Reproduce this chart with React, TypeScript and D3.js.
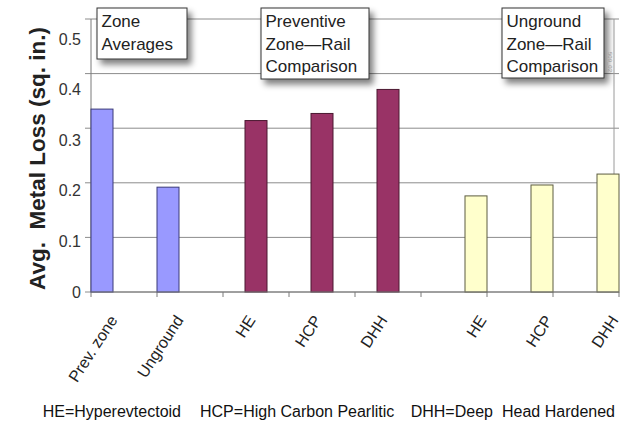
import React from "react";
import * as d3 from "d3";

// ---- data ----
const categories = ["Prev. zone", "Unground", "HE", "HCP", "DHH", "HE", "HCP", "DHH"];
const groupOf = ["zone", "zone", "prev", "prev", "prev", "ung", "ung", "ung"];
const values = [0.335, 0.192, 0.314, 0.327, 0.371, 0.176, 0.196, 0.216];
const yTicks = [0, 0.1, 0.2, 0.3, 0.4, 0.5];
const yTickLabels = ["0", "0.1", "0.2", "0.3", "0.4", "0.5"];
const yTitle = "Avg.\u00a0\u00a0Metal Loss (sq. in.)";
const boxTexts = [
  ["Zone", "Averages"],
  ["Preventive", "Zone\u2014Rail", "Comparison"],
  ["Unground", "Zone\u2014Rail", "Comparison"],
];
const footnoteParts = ["HE=Hyperevtectoid", "HCP=High Carbon Pearlitic", "DHH=Deep", "Head Hardened"];

// ---- layout / style ----
const W = 621;
const H = 421;
const plot = { left: 91, right: 619, top: 19, bottom: 292 };
const groupStyle: Record<string, { fill: string; stroke: string; align: number; labelShift: number }> = {
  zone: { fill: "#9999FF", stroke: "#3a3a78", align: 0, labelShift: 16 },
  prev: { fill: "#993366", stroke: "#4a1830", align: 0.5, labelShift: 0 },
  ung: { fill: "#FFFFCC", stroke: "#5c5c40", align: 1, labelShift: 11 },
};
const boxLayout = [
  { x: 97, y: 8, w: 90, h: 51 },
  { x: 261, y: 8, w: 108, h: 71 },
  { x: 502, y: 8, w: 102, h: 70 },
];
const footX = [42.7, 200, 410.7, 502];
const font = "'Liberation Sans', Arial, Helvetica, sans-serif";

export default function App() {
  const x = d3
    .scaleBand<number>()
    .domain(categories.map((_, i) => i))
    .range([plot.left, plot.right])
    .padding(0);
  const bw = x.bandwidth();
  const barW = bw / 3;
  const y = d3.scaleLinear().domain([0, 0.5]).range([plot.bottom, plot.top]);
  // tick text in the source sits on a slightly compressed spacing
  const yLab = d3.scaleLinear().domain([0, 0.5]).range([plot.bottom, 39]);

  const barX = (i: number) => {
    const g = groupStyle[groupOf[i]];
    return (x(i) as number) + (bw - barW) * g.align;
  };

  const xTickPos = [...categories.map((_, i) => x(i) as number), plot.right];

  return (
    <svg
      width={W}
      height={H}
      style={{ position: "absolute", left: 0, top: 0, background: "#fff" }}
      fontFamily={font}
    >
      <defs>
        <filter id="shadow" x="-20%" y="-20%" width="150%" height="170%">
          <feGaussianBlur in="SourceAlpha" stdDeviation="3" />
          <feOffset dx="4" dy="5" result="o" />
          <feComponentTransfer>
            <feFuncA type="linear" slope="0.5" />
          </feComponentTransfer>
          <feMerge>
            <feMergeNode />
            <feMergeNode in="SourceGraphic" />
          </feMerge>
        </filter>
      </defs>
      <rect x={0} y={0} width={W} height={H} fill="#fff" />

      {/* gridlines */}
      {yTicks.map((t) => (
        <line
          key={"g" + t}
          x1={plot.left - 6}
          x2={plot.right}
          y1={y(t)}
          y2={y(t)}
          stroke="#8c8c8c"
          strokeWidth={1}
        />
      ))}
      {/* right frame line */}
      <line x1={614} x2={614} y1={plot.top} y2={plot.bottom} stroke="#9a9a9a" strokeWidth={1} />
      {/* y axis */}
      <line x1={plot.left} x2={plot.left} y1={plot.top} y2={plot.bottom} stroke="#7a7a7a" strokeWidth={1} />
      {/* x axis ticks */}
      {xTickPos.map((p, i) => (
        <line key={"xt" + i} x1={p} x2={p} y1={plot.bottom} y2={plot.bottom + 5} stroke="#7a7a7a" />
      ))}

      {/* bars */}
      {values.map((v, i) => {
        const g = groupStyle[groupOf[i]];
        return (
          <rect
            key={"b" + i}
            x={barX(i)}
            y={y(v)}
            width={barW}
            height={y(0) - y(v)}
            fill={g.fill}
            stroke={g.stroke}
            strokeWidth={1}
          />
        );
      })}
      <line x1={plot.left} x2={plot.right} y1={plot.bottom} y2={plot.bottom} stroke="#7a7a7a" strokeWidth={1} />

      {/* y tick labels */}
      {yTicks.map((t, i) => (
        <text
          key={"yl" + t}
          x={81}
          y={yLab(t)}
          dy="0.35em"
          textAnchor="end"
          fontSize={16}
          fill="#333"
        >
          {yTickLabels[i]}
        </text>
      ))}

      {/* y title */}
      <text
        transform={`translate(45, ${(plot.top + plot.bottom) / 2 + 3}) rotate(-90)`}
        textAnchor="middle"
        fontSize={22.5}
        fontWeight="bold"
        fill="#222"
      >
        {yTitle}
      </text>

      {/* x labels */}
      {categories.map((c, i) => {
        const g = groupStyle[groupOf[i]];
        const lx = barX(i) + barW / 2 + g.labelShift;
        const ly = plot.bottom + 28;
        return (
          <text
            key={"xl" + i}
            transform={`translate(${lx}, ${ly}) rotate(-57)`}
            textAnchor="end"
            fontSize={16}
            fill="#222"
          >
            {c}
          </text>
        );
      })}

      {/* annotation boxes */}
      {boxTexts.map((lines, bi) => {
        const b = boxLayout[bi];
        return (
          <g key={"box" + bi}>
            <rect x={b.x} y={b.y} width={b.w} height={b.h} fill="#fff" stroke="#333" strokeWidth={1} filter="url(#shadow)" />
            {lines.map((ln, li) => (
              <text key={li} x={b.x + 4.5} y={b.y + 19 + li * 22.5} fontSize={17} fill="#222">
                {ln}
              </text>
            ))}
          </g>
        );
      })}

      {/* small id stamp */}
      <text transform="translate(608, 52) rotate(90)" fontSize={6} fill="#999">
        509_02
      </text>

      {/* footnote */}
      {footnoteParts.map((t, i) => (
        <text key={"f" + i} x={footX[i]} y={416.5} fontSize={16} fill="#111">
          {t}
        </text>
      ))}
    </svg>
  );
}
